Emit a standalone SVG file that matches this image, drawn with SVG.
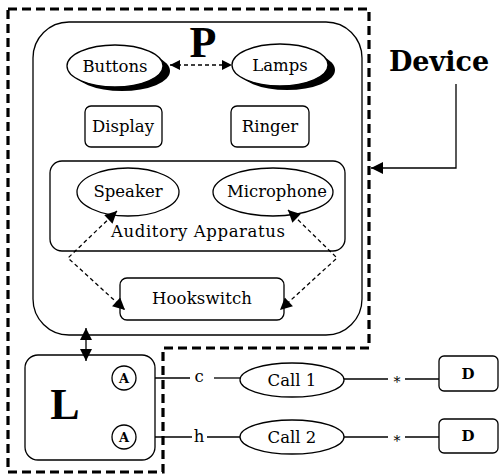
<svg xmlns="http://www.w3.org/2000/svg" width="499" height="476" viewBox="0 0 499 476">
<style>
.bg{fill:#fff}
.ln{fill:none;stroke:#000;stroke-width:1.3}
.box{fill:#fff;stroke:#000;stroke-width:1.3}
.bnd{fill:none;stroke:#000;stroke-width:3.2;stroke-dasharray:9 5}
.dash{fill:none;stroke:#000;stroke-width:1.3;stroke-dasharray:4 3}
.t{font-family:"DejaVu Serif","Liberation Serif",serif;font-size:16.5px;fill:#000;text-anchor:middle}
.big{font-family:"Liberation Serif","DejaVu Serif",serif;font-weight:bold;font-size:44px;fill:#000;text-anchor:middle}
.b{font-weight:bold}
</style>
<defs>
<marker id="ah" viewBox="0 0 10 10" refX="10" refY="5" markerWidth="10" markerHeight="10" markerUnits="userSpaceOnUse" orient="auto-start-reverse">
<path d="M0,0 L10,5 L0,10 Z" fill="#000"/>
</marker>
<marker id="ahb" viewBox="0 0 10 10" refX="10" refY="5" markerWidth="14" markerHeight="12" markerUnits="userSpaceOnUse" orient="auto-start-reverse">
<path d="M0,0 L10,5 L0,10 Z" fill="#000"/>
</marker>
</defs>
<rect class="bg" x="0" y="0" width="499" height="476"/>

<g id="device-boundary">
<path class="bnd" d="M8,9 H369 V348 H163 V472 H8 Z"/>
<text class="t b" x="439" y="71" style="font-size:27px">Device</text>
</g>

<g id="P">
<rect class="box" x="33" y="22" width="329" height="313" rx="36" ry="36"/>
<text class="big" x="203" y="57">P</text>
</g>

<g id="Buttons">
<ellipse cx="122" cy="71" rx="48" ry="20" fill="#000"/>
<ellipse class="box" cx="115" cy="66" rx="48" ry="21"/>
<text class="t" x="115" y="72">Buttons</text>
</g>

<g id="Lamps">
<ellipse cx="287" cy="70" rx="48" ry="20" fill="#000"/>
<ellipse class="box" cx="280" cy="65" rx="48" ry="21"/>
<text class="t" x="280" y="71">Lamps</text>
</g>

<g id="Display">
<rect class="box" x="85" y="106" width="77" height="41" rx="6"/>
<text class="t" x="123" y="132">Display</text>
</g>

<g id="Ringer">
<rect class="box" x="231" y="106" width="78" height="41" rx="6"/>
<text class="t" x="270" y="132">Ringer</text>
</g>

<g id="AuditoryApparatus">
<rect class="box" x="50" y="161" width="295" height="90" rx="12"/>
<text class="t" x="198" y="237" textLength="174" lengthAdjust="spacing">Auditory Apparatus</text>
</g>

<g id="Speaker">
<ellipse class="box" cx="128" cy="192" rx="51" ry="24"/>
<text class="t" x="128" y="197">Speaker</text>
</g>

<g id="Microphone">
<ellipse class="box" cx="273" cy="192" rx="60" ry="24"/>
<text class="t" x="277" y="197" textLength="100" lengthAdjust="spacingAndGlyphs">Microphone</text>
</g>

<g id="Hookswitch">
<rect class="box" x="120" y="278" width="164" height="42" rx="7"/>
<text class="t" x="202" y="304" textLength="100" lengthAdjust="spacing">Hookswitch</text>
</g>

<g id="L">
<rect class="box" x="25" y="355" width="130" height="105" rx="13"/>
<text class="big" x="65" y="419">L</text>
</g>

<g id="A1">
<ellipse class="box" cx="124" cy="378" rx="12" ry="12"/>
<text class="t b" x="124" y="383" style="font-size:13px">A</text>
</g>

<g id="A2">
<ellipse class="box" cx="124" cy="437" rx="12" ry="12"/>
<text class="t b" x="124" y="442" style="font-size:13px">A</text>
</g>

<g id="Call1">
<ellipse class="box" cx="292" cy="380" rx="52" ry="17"/>
<text class="t" x="292" y="386">Call 1</text>
</g>

<g id="Call2">
<ellipse class="box" cx="292" cy="437" rx="52" ry="17"/>
<text class="t" x="292" y="443">Call 2</text>
</g>

<g id="D1">
<rect class="box" x="439" y="356" width="59" height="35" rx="5"/>
<text class="t b" x="468" y="379" style="font-size:15px">D</text>
</g>

<g id="D2">
<rect class="box" x="439" y="419" width="59" height="34" rx="5"/>
<text class="t b" x="468" y="441" style="font-size:15px">D</text>
</g>

<g id="connectors">
<line class="dash" x1="170" y1="65" x2="232" y2="65" marker-start="url(#ah)" marker-end="url(#ah)"/>
<polyline class="dash" points="117,211 68,258 125,310" marker-start="url(#ahb)" marker-end="url(#ahb)"/>
<polyline class="dash" points="288,210 337,258 280,310" marker-start="url(#ahb)" marker-end="url(#ahb)"/>
<polyline class="ln" points="456,84 456,168 371,168" marker-end="url(#ahb)"/>
<line class="ln" x1="86" y1="328" x2="86" y2="361" stroke-width="2" marker-start="url(#ahb)" marker-end="url(#ahb)"/>
<line class="ln" x1="155" y1="378" x2="190" y2="378"/>
<text class="t" x="199" y="382">c</text>
<line class="ln" x1="214" y1="378" x2="240" y2="378"/>
<line class="ln" x1="155" y1="437" x2="192" y2="437"/>
<text class="t" x="199" y="442">h</text>
<line class="ln" x1="207" y1="437" x2="240" y2="437"/>
<line class="ln" x1="344" y1="379" x2="388" y2="379"/>
<text class="t" x="397" y="387" style="font-size:14px">*</text>
<line class="ln" x1="405" y1="379" x2="439" y2="379"/>
<line class="ln" x1="344" y1="437" x2="388" y2="437"/>
<text class="t" x="397" y="446" style="font-size:14px">*</text>
<line class="ln" x1="405" y1="437" x2="439" y2="437"/>
</g>
</svg>
